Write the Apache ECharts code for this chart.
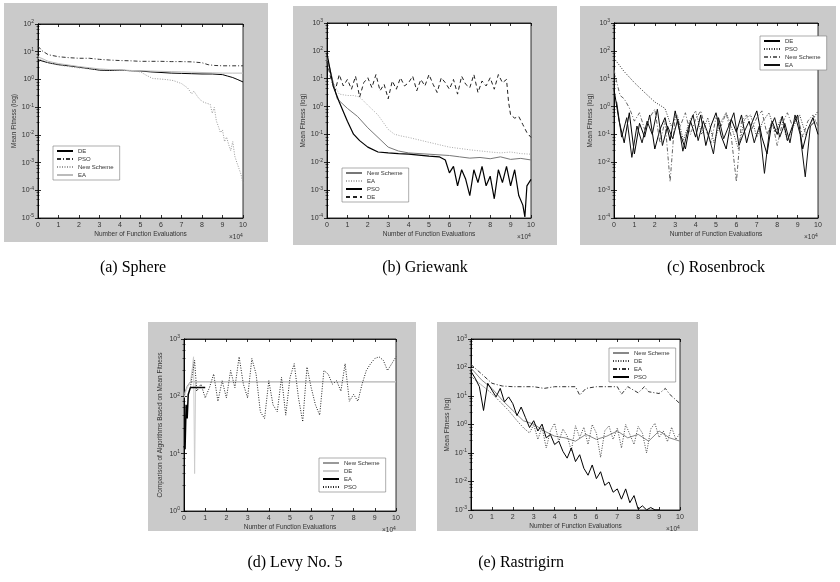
<!DOCTYPE html>
<html>
<head>
<meta charset="utf-8">
<script src="https://cdn.jsdelivr.net/npm/echarts@6/dist/echarts.min.js"></script>
<style>
html, body { margin: 0; padding: 0; background: #fff; }
#main { width: 840px; height: 582px; }
</style>
</head>
<body>
<div id="main"></div>
<script>
// x values are in units of 1e4 function evaluations
var grid025 = [0,0.25,0.5,0.75,1,1.25,1.5,1.75,2,2.25,2.5,2.75,3,3.25,3.5,3.75,4,4.25,4.5,4.75,5,5.25,5.5,5.75,6,6.25,6.5,6.75,7,7.25,7.5,7.75,8,8.25,8.5,8.75,9,9.25,9.5,9.75,10]
var grid05 = [0,0.5,1,1.5,2,2.5,3,3.5,4,4.5,5,5.5,6,6.5,7,7.5,8,8.5,9,9.5,10]

// (a) Sphere
var sphereXPSO = [0,0.2,0.5,1,1.5,2,2.5,3,3.5,4,4.5,5,5.5,6,6.5,7,7.5,8,8.3,8.6,9,9.5,10]
var spherePSO = [15.7,10.8,7.8,6.6,6.1,5.8,5.8,5.3,5.0,4.8,4.7,4.5,4.5,4.5,4.4,4.4,4.3,4.0,3.4,3.2,3.1,3.1,3.1]
var sphereEA = [6.6,4.5,3.73,3.3,2.91,2.64,2.39,2.27,2.22,2.11,2.06,2.01,1.96,1.91,1.87,1.82,1.78,1.73,1.69,1.69,1.69]
var sphereXDE = [0,0.5,1,1.5,2,2.5,3,3.5,4,4.5,5,5.5,6,6.5,7,7.5,8,8.5,9,9.25,9.5,9.75,10]
var sphereDE = [5.1,4.0,3.4,3.1,2.77,2.45,2.16,2.11,2.16,2.06,2.01,1.87,1.78,1.69,1.65,1.61,1.57,1.57,1.49,1.32,1.17,0.98,0.81]
var sphereXNS = [0,0.5,1,1.5,2,2.5,3,3.5,4,4.5,5,5.3,5.6,6,6.3,6.6,7,7.3,7.5,7.6,7.8,8,8.2,8.4,8.5,8.6,8.7,8.8,8.9,9,9.1,9.2,9.3,9.4,9.5,9.6,9.7,9.8,9.9,10]
var sphereNS = [5.8,4.0,3.3,2.9,2.6,2.4,2.3,2.2,2.2,2.06,1.87,1.39,1.08,1.03,0.98,0.91,0.71,0.49,0.30,0.38,0.23,0.16,0.14,0.126,0.060,0.098,0.032,0.020,0.012,0.015,0.0057,0.0083,0.0045,0.0027,0.0057,0.0017,0.0010,0.00062,0.00038,0.00018]

// (b) Griewank
var griewXDE = [0,0.2,0.4,0.6,0.8,1,1.2,1.4,1.6,1.8,2,2.2,2.4,2.6,2.8,3,3.2,3.4,3.6,3.8,4,4.2,4.4,4.6,4.8,5,5.2,5.4,5.6,5.8,6,6.2,6.4,6.6,6.8,7,7.2,7.4,7.6,7.8,8,8.2,8.4,8.6,8.8,8.9,9,9.2,9.4,9.6,9.8,10]
var griewDE = [40.8,9.4,3.7,14.1,5.5,9.4,4.2,12.3,2.2,7.2,10.8,4.8,14.1,3.7,6.3,1.9,8.3,4.2,10.8,5.5,7.2,12.3,3.7,9.4,5.5,14.1,6.3,3.2,10.8,7.2,4.2,9.4,2.8,12.3,6.3,4.8,14.1,3.2,8.3,5.5,10.8,4.2,14.1,7.2,9.4,1.46,0.50,0.385,0.44,0.226,0.116,0.078]
var griewXPSO = [0,0.3,0.6,1,1.3,1.6,2,2.5,3,3.5,4,4.5,5,5.5,5.8,6,6.2,6.4,6.6,6.8,7,7.2,7.4,7.6,7.8,8,8.2,8.4,8.6,8.8,9,9.2,9.4,9.6,9.7,9.8,10]
var griewPSO = [79,5.5,1.46,0.295,0.102,0.060,0.035,0.0234,0.0217,0.0205,0.0195,0.0180,0.0166,0.0157,0.0121,0.00415,0.0071,0.00143,0.0054,0.00244,0.00064,0.0054,0.00187,0.0071,0.00143,0.00318,0.00049,0.0054,0.00187,0.0071,0.00143,0.0054,0.00064,0.00029,0.00011,0.00143,0.00244]
var griewXNS = [0,0.5,1,1.5,2,2.5,3,3.5,4,5,6,6.5,7,7.5,8,8.5,9,9.5,10]
var griewNS = [61,1.9,0.86,0.44,0.173,0.078,0.035,0.0254,0.0217,0.0195,0.0175,0.0157,0.0141,0.0149,0.0134,0.0157,0.0127,0.0138,0.0121]
var griewXEA = [0,0.3,0.6,1,1.3,1.6,2,2.5,3,3.3,3.6,4,5,6,7,8,8.5,9,9.5,10]
var griewEA = [46.7,7.2,2.8,2.5,2.5,2.2,1.12,0.50,0.152,0.102,0.089,0.078,0.052,0.035,0.028,0.0234,0.0217,0.0234,0.0205,0.0195]

// (c) Rosenbrock
var rosenDE = [4.2,0.3,0.05,0.6,0.02,0.25,0.08,0.5,0.03,0.15,0.4,0.06,0.7,0.1,0.03,0.3,0.08,0.5,0.04,0.2,0.6,0.09,0.03,0.35,0.12,0.5,0.05,0.25,0.7,0.08,0.02,0.3,0.1,0.45,0.06,0.2,0.5,0.03,0.15,0.4,0.1]
var rosenXEA = [0.125,0.375,0.625,0.875,1.125,1.375,1.625,1.875,2.125,2.375,2.625,2.875,3.125,3.375,3.625,3.875,4.125,4.375,4.625,4.875,5.125,5.375,5.625,5.875,6.125,6.375,6.625,6.875,7.125,7.375,7.625,7.875,8.125,8.375,8.625,8.875,9.125,9.375,9.625,9.875]
var rosenEA = [1.5,0.08,0.4,0.015,0.2,0.05,0.3,0.1,0.8,0.04,0.2,0.07,0.35,0.025,0.15,0.5,0.06,0.3,0.1,0.02,0.4,0.07,0.2,0.6,0.04,0.12,0.3,0.05,0.2,0.004,0.15,0.4,0.08,0.25,0.05,0.5,0.1,0.003,0.2,0.3]
var rosenXPSO = [0,0.2,0.5,1,1.5,2,2.5,2.8,3.1,3.4,3.7,4.0,4.3,4.6,4.9,5.2,5.5,5.8,6.1,6.4,6.7,7.0,7.3,7.6,7.9,8.2,8.5,8.8,9.1,9.4,9.7,10]
var rosenPSO = [54,35,18,7.2,3.2,1.46,0.86,0.2,0.5,0.06,0.3,0.7,0.1,0.4,0.05,0.25,0.6,0.15,0.03,0.35,0.5,0.08,0.3,0.6,0.12,0.4,0.06,0.2,0.5,0.1,0.3,0.7]
var rosenXNS = [0,0.1,0.3,0.5,0.75,1,1.25,1.5,1.75,2,2.25,2.5,2.75,3,3.25,3.5,3.75,4,4.25,4.5,4.75,5,5.25,5.5,5.75,6,6.25,6.5,6.75,7,7.25,7.5,7.75,8,8.25,8.5,8.75,9,9.25,9.5,9.75,10]
var rosenNS = [21,9.4,2.5,1.9,0.9,0.3,0.6,0.15,0.4,0.8,0.05,0.3,0.002,0.5,0.2,0.6,0.1,0.35,0.7,0.15,0.05,0.4,0.2,0.6,0.08,0.002,0.3,0.5,0.15,0.4,0.7,0.1,0.3,0.04,0.25,0.6,0.2,0.45,0.08,0.3,0.5,0.2]

// (d) Levy No. 5
var levyXNS = [0,0.15,0.3,1,10]
var levyNS = [107,150,179,179,179]
var levyXDE = [0,0.15,0.3,0.4,0.45,0.5,0.55,0.7,1,10]
var levyDE = [94,142,174,324,489,4.5,179,179,179,179]
var levyXEA = [0,0.05,0.1,0.15,0.2,0.3,0.5,1]
var levyEA = [13.6,11.9,71,41,108,142,142,142]
var levyXPSO = [0.3,0.5,0.6,0.8,1,1.2,1.4,1.6,1.8,2,2.2,2.4,2.6,2.8,3,3.2,3.4,3.6,3.8,4,4.2,4.4,4.6,4.8,5,5.2,5.4,5.6,5.8,6,6.2,6.4,6.6,6.8,7,7.2,7.4,7.6,7.8,8,8.2,8.4,8.6,8.8,9,9.2,9.4,9.6,9.8,10]
var levyPSO = [142,426,123,163,94,142,245,82,187,94,282,142,489,163,94,456,245,54,41,187,71,54,214,47,214,371,94,36,324,142,71,47,282,245,163,187,123,371,82,108,82,163,282,371,456,489,426,282,371,489]

// (e) Rastrigirn
var rastNS = [96,37,18.5,7.1,3.1,1.36,1.03,0.59,0.39,0.34,0.26,0.45,0.30,0.39,0.59,0.34,0.45,0.26,0.59,0.34,0.26]
var rastXEA = [0,0.5,1,1.5,2,2.5,3,3.5,4,4.5,5,5.2,5.5,6,6.5,7,7.2,7.5,8,8.3,8.5,9,9.3,9.5,10]
var rastEA = [127,60,28,22.4,21.2,21.2,21.2,18.5,21.2,21.2,21.2,10.7,18.5,21.2,21.2,21.2,11.6,21.2,12.9,21.2,14.1,12.2,18.5,11.6,5.4]
var rastXPSO = [0,0.2,0.4,0.6,0.8,1,1.2,1.4,1.6,1.8,2,2.2,2.4,2.6,2.8,3,3.2,3.4,3.6,3.8,4,4.2,4.4,4.6,4.8,5,5.2,5.4,5.6,5.8,6,6.2,6.4,6.6,6.8,7,7.2,7.4,7.6,7.8,8,8.2,8.4,8.6,8.8,9]
var rastPSO = [73,42,21.2,3.1,28,16.1,9.3,18.5,6.2,9.3,5.4,2.05,4.1,1.79,0.78,1.36,0.59,1.03,0.34,0.45,0.198,0.26,0.114,0.066,0.150,0.050,0.087,0.029,0.0166,0.038,0.0126,0.022,0.0073,0.0096,0.0042,0.0055,0.0024,0.0055,0.0018,0.0032,0.00106,0.0014,0.00101,0.00122,0.00101,0.00101]
var rastXDE = [0,0.3,0.6,1,1.4,1.8,2.2,2.5,2.8,3,3.2,3.4,3.6,3.8,4,4.2,4.4,4.6,4.8,5,5.2,5.4,5.6,5.8,6,6.2,6.4,6.6,6.8,7,7.2,7.4,7.6,7.8,8,8.2,8.4,8.6,8.8,9,9.2,9.4,9.6,9.8,10]
var rastDE = [48.5,32,21.2,12.2,6.2,3.1,1.36,0.78,0.5,1.0,0.3,0.8,0.15,0.6,1.1,0.25,0.7,0.4,0.12,0.9,0.35,0.8,0.2,1.0,0.5,0.07,0.6,0.9,0.3,0.75,0.15,1.0,0.45,0.2,0.85,0.5,0.1,0.7,1.1,0.35,0.6,0.25,0.8,0.3,0.5]

var captions = ['(a) Sphere', '(b) Griewank', '(c) Rosenbrock', '(d) Levy No. 5', '(e) Rastrigirn']

var chart = echarts.init(document.getElementById('main'))

var grids = [
  { left: 38, top: 24, width: 205, height: 194 },
  { left: 327, top: 23, width: 204, height: 195 },
  { left: 614, top: 23, width: 204, height: 195 },
  { left: 184, top: 339, width: 212, height: 172 },
  { left: 471, top: 339, width: 209, height: 171 }
]
var panels = [
  [4, 3, 264, 239], [293, 6, 264, 239], [580, 6, 256, 239],
  [148, 322, 268, 209], [437, 322, 261, 209]
]
var capPos = [[133, 268], [425, 268], [716, 268], [295, 563], [521, 563]]
var yRange = [[1e-5, 1e2], [1e-4, 1e3], [1e-4, 1e3], [1, 1e3], [1e-3, 1e3]]
var yNames = ['Mean Fitness (log)', 'Mean Fitness (log)', 'Mean Fitness (log)',
  'Comparison of Algorithms Based on Mean Fitness', 'Mean Fitness (log)']
var legendPos = [[53, 146], [342, 168], [760, 36], [319, 458], [609, 348]]

function zip(xs, ys) {
  return xs.map(function (x, i) { return [x, ys[i]] })
}

var solid = function (c, w) { return { color: c, width: w || 1, type: 'solid' } }
var dotted = function (c) { return { color: c, width: 1, type: [1, 1.5] } }
var dashdot = function (c) { return { color: c, width: 1, type: [4, 2, 1, 2] } }
var dashed = function (c) { return { color: c, width: 1, type: [4, 3] } }

var xAxis = []
var yAxis = []
var series = []
var legend = []
var graphic = []

grids.forEach(function (g, i) {
  var tick = { inside: true, length: 3, lineStyle: { color: '#000', width: 0.8 } }
  var line = { show: true, lineStyle: { color: '#000', width: 0.8 } }
  xAxis.push({
    gridIndex: i, type: 'value', min: 0, max: 10, interval: 1,
    axisLine: line, axisTick: tick, splitLine: { show: false },
    axisLabel: { fontSize: 7, color: '#333', margin: 4 },
    name: 'Number of Function Evaluations', nameLocation: 'middle', nameGap: 13,
    nameTextStyle: { fontSize: 6.5, color: '#333' }
  })
  xAxis.push({
    gridIndex: i, type: 'value', min: 0, max: 10, interval: 1, position: 'top',
    axisLine: line, axisTick: tick, splitLine: { show: false }, axisLabel: { show: false }
  })
  var minor = { show: true, splitNumber: 5, length: 1.5, lineStyle: { color: '#000', width: 0.6 } }
  yAxis.push({
    gridIndex: i, type: 'log', logBase: 10, min: yRange[i][0], max: yRange[i][1],
    axisLine: line, axisTick: tick, minorTick: minor, splitLine: { show: false },
    axisLabel: {
      margin: 4,
      formatter: function (v) { return '{b|10}{e|' + Math.round(Math.log10(v)) + '}' },
      rich: {
        b: { fontSize: 7, color: '#333' },
        e: { fontSize: 5, color: '#333', verticalAlign: 'top', padding: [0, 0, 4, 0] }
      }
    },
    name: yNames[i], nameLocation: 'middle', nameGap: 20,
    nameTextStyle: { fontSize: 6.5, color: '#333' }
  })
  yAxis.push({
    gridIndex: i, type: 'log', logBase: 10, min: yRange[i][0], max: yRange[i][1], position: 'right',
    axisLine: line, axisTick: tick, minorTick: minor, splitLine: { show: false }, axisLabel: { show: false }
  })
  graphic.push({
    type: 'rect', z: -100, shape: { x: panels[i][0], y: panels[i][1], width: panels[i][2], height: panels[i][3] },
    style: { fill: '#cacaca' }
  })
  graphic.push({
    type: 'text', x: g.left + g.width - 14, y: g.top + g.height + 15,
    style: {
      text: '{a|\u00d710}{b|4}', fill: '#333',
      rich: { a: { fontSize: 6.5, fill: '#333' }, b: { fontSize: 5, fill: '#333', verticalAlign: 'top', padding: [0, 0, 4, 0] } }
    }
  })
  graphic.push({
    type: 'text', x: capPos[i][0], y: capPos[i][1],
    style: { text: captions[i], fill: '#000', font: '16px "Liberation Serif"', align: 'center', verticalAlign: 'middle' }
  })
})

function addSeries(gi, tag, name, xs, ys, style) {
  series.push({
    type: 'line', name: name + '#' + tag, xAxisIndex: 2 * gi, yAxisIndex: 2 * gi,
    data: zip(xs, ys), symbol: 'none', lineStyle: style, itemStyle: { color: style.color },
    silent: true, z: 3
  })
}

// (a)
addSeries(0, 'a', 'DE', sphereXDE, sphereDE, solid('#000'))
addSeries(0, 'a', 'PSO', sphereXPSO, spherePSO, dashdot('#333'))
addSeries(0, 'a', 'New Scheme', sphereXNS, sphereNS, dotted('#999'))
addSeries(0, 'a', 'EA', grid05, sphereEA, solid('#bbb'))
// (b)
addSeries(1, 'b', 'New Scheme', griewXNS, griewNS, solid('#777'))
addSeries(1, 'b', 'EA', griewXEA, griewEA, dotted('#aaa'))
addSeries(1, 'b', 'PSO', griewXPSO, griewPSO, solid('#000', 1.2))
addSeries(1, 'b', 'DE', griewXDE, griewDE, dashed('#222'))
// (c)
addSeries(2, 'c', 'DE', grid025, rosenDE, solid('#000'))
addSeries(2, 'c', 'PSO', rosenXPSO, rosenPSO, dotted('#333'))
addSeries(2, 'c', 'New Scheme', rosenXNS, rosenNS, dashdot('#666'))
addSeries(2, 'c', 'EA', rosenXEA, rosenEA, solid('#111'))
// (d)
addSeries(3, 'd', 'New Scheme', levyXNS, levyNS, solid('#999'))
addSeries(3, 'd', 'DE', levyXDE, levyDE, solid('#ccc'))
addSeries(3, 'd', 'EA', levyXEA, levyEA, solid('#000', 1.5))
addSeries(3, 'd', 'PSO', levyXPSO, levyPSO, dotted('#222'))
// (e)
addSeries(4, 'e', 'New Scheme', grid05, rastNS, solid('#888'))
addSeries(4, 'e', 'DE', rastXDE, rastDE, dotted('#444'))
addSeries(4, 'e', 'EA', rastXEA, rastEA, dashdot('#333'))
addSeries(4, 'e', 'PSO', rastXPSO, rastPSO, solid('#000'))

var legendOrder = [
  ['DE', 'PSO', 'New Scheme', 'EA'],
  ['New Scheme', 'EA', 'PSO', 'DE'],
  ['DE', 'PSO', 'New Scheme', 'EA'],
  ['New Scheme', 'DE', 'EA', 'PSO'],
  ['New Scheme', 'DE', 'EA', 'PSO']
]
var tags = ['a', 'b', 'c', 'd', 'e']
legendOrder.forEach(function (names, i) {
  legend.push({
    data: names.map(function (n) { return n + '#' + tags[i] }),
    left: legendPos[i][0], top: legendPos[i][1], orient: 'vertical',
    itemWidth: 16, itemHeight: 6, itemGap: 2, padding: [2, 6, 2, 3],
    backgroundColor: '#fff', borderColor: '#777', borderWidth: 0.6,
    itemStyle: { opacity: 0 },
    textStyle: { fontSize: 6, color: '#333' }, selectedMode: false,
    formatter: function (n) { return n.split('#')[0] }
  })
})

chart.setOption({
  animation: false,
  backgroundColor: '#fff',
  grid: grids.map(function (g) {
    return { left: g.left, top: g.top, width: g.width, height: g.height, show: true,
      backgroundColor: '#fff', borderColor: '#000', borderWidth: 0.8 }
  }),
  xAxis: xAxis,
  yAxis: yAxis,
  legend: legend,
  graphic: graphic,
  series: series
})
</script>
</body>
</html>
